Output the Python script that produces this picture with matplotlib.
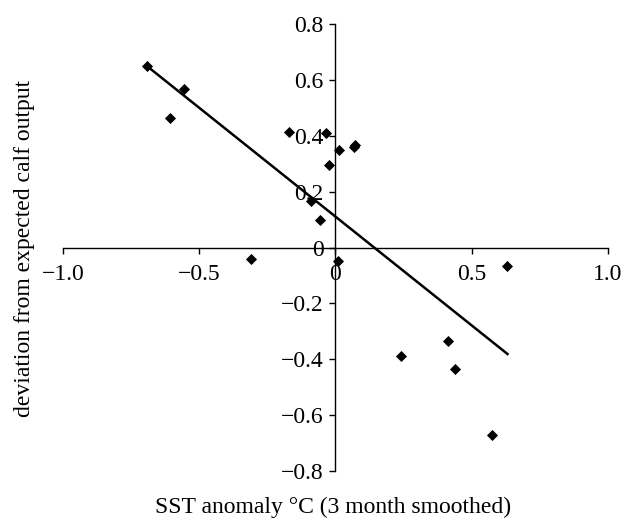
import matplotlib
matplotlib.use("Agg")
import matplotlib.pyplot as plt
import numpy as np

plt.rcParams['font.family'] = ['Liberation Serif', 'DejaVu Serif']

# data
sst = [-0.69, -0.557, -0.608, -0.311, -0.171, -0.035, -0.025, 0.014, 0.067, 0.070,
       -0.090, -0.057, 0.008, 0.631, 0.242, 0.411, 0.438, 0.575]
calf = [0.649, 0.568, 0.466, -0.040, 0.414, 0.409, 0.297, 0.351, 0.360, 0.366,
        0.168, 0.100, -0.048, -0.066, -0.390, -0.336, -0.434, -0.673]
fit_slope = -0.78
fit_intercept = 0.111
xticks = [-1.0, -0.5, 0.0, 0.5, 1.0]
xticklabels = ['\u22121.0', '\u22120.5', '0', '0.5', '1.0']
yticks = [-0.8, -0.6, -0.4, -0.2, 0.0, 0.2, 0.4, 0.6, 0.8]
yticklabels = ['\u22120.8', '\u22120.6', '\u22120.4', '\u22120.2', '0', '0.2', '0.4', '0.6', '0.8']

fig = plt.figure(figsize=(6.23, 5.18), dpi=100)
ax = fig.add_axes([0.101, 0.091, 0.875, 0.862])

ax.scatter(sst, calf, marker='D', s=32, color='black', zorder=3, linewidths=0)
xs = np.array([min(sst), max(sst)])
ax.plot(xs, fit_slope * xs + fit_intercept, color='black', lw=1.8, zorder=2)

ax.set_xlim(-1.0, 1.0)
ax.set_ylim(-0.8, 0.8)
for s in ['top', 'right']:
    ax.spines[s].set_visible(False)
ax.spines['left'].set_position(('data', 0))
ax.spines['bottom'].set_position(('data', 0))
ax.spines['left'].set_linewidth(1.0)
ax.spines['bottom'].set_linewidth(1.0)

ax.set_xticks(xticks)
ax.set_xticklabels(xticklabels)
ax.set_yticks(yticks)
ax.set_yticklabels(yticklabels)
ax.tick_params(axis='x', direction='out', length=4.5, width=1.0, labelsize=17, pad=7)
ax.tick_params(axis='y', direction='out', length=4.5, width=1.0, labelsize=17, pad=4)

fig.text(333.5 / 623, 1 - 507 / 518, 'SST anomaly \u00b0C (3 month smoothed)', ha='center', va='center', fontsize=17)
fig.text(25 / 623, 1 - 248 / 518, 'deviation from expected calf output', ha='center', va='center',
         rotation=90, fontsize=17)

fig.savefig('out.png', dpi=100)
